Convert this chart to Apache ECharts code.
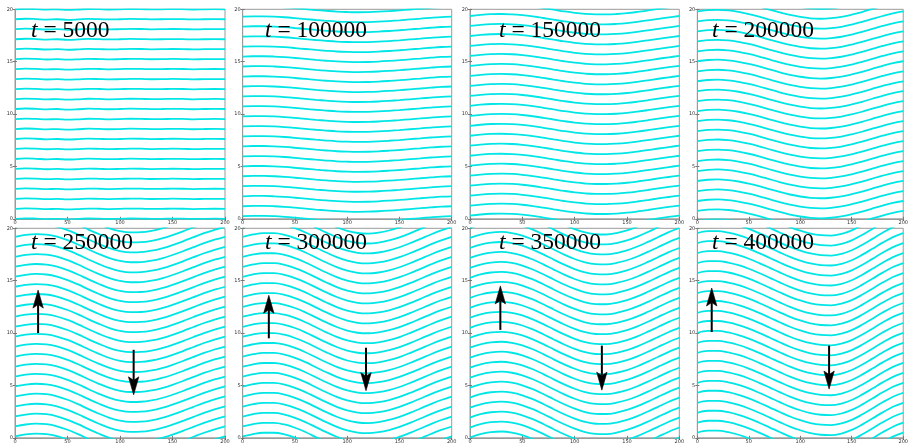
<!DOCTYPE html>
<html><head><meta charset="utf-8">
<script src="https://cdn.jsdelivr.net/npm/echarts@6/dist/echarts.min.js"></script>
<style>html,body{margin:0;padding:0;background:#fff}#c{width:911px;height:445px}</style>
</head><body><div id="c"></div>
<script>
// sample positions along x
const xs = [0,10,20,30,40,50,60,70,80,90,100,110,120,130,140,150,160,170,180,190,200];
// rest heights of the layer lines
const baselines = [-2.86,-1.90,-0.95,0,0.95,1.90,2.86,3.81,4.76,5.71,6.67,7.62,8.57,9.52,10.48,11.43,12.38,13.33,14.29,15.24,16.19,17.14,18.10,19.05,20.00,20.95,21.90];
const times = ['5000','100000','150000','200000','250000','300000','350000','400000'];
// vertical displacement of the lines vs x, per panel
const prof5000   = [0,0.05,0.02,-0.03,0,-0.05,-0.02,0.03,0.01,-0.02,0,0.03,0.02,-0.01,0,0.02,0.01,-0.02,0,0.01,0];
const prof100000 = [0.25,0.28,0.28,0.25,0.19,0.11,0.02,-0.07,-0.15,-0.22,-0.26,-0.28,-0.27,-0.23,-0.17,-0.10,-0.02,0.06,0.14,0.21,0.25];
const prof150000 = [0.31,0.41,0.48,0.50,0.47,0.39,0.27,0.12,-0.04,-0.20,-0.34,-0.44,-0.49,-0.49,-0.45,-0.37,-0.25,-0.11,0.04,0.18,0.31];
const prof200000 = [0.75,0.87,0.90,0.84,0.70,0.50,0.25,-0.03,-0.30,-0.54,-0.73,-0.86,-0.90,-0.85,-0.72,-0.51,-0.26,0.03,0.31,0.56,0.75];
const prof250000 = [1.09,1.27,1.35,1.30,1.10,0.77,0.35,-0.12,-0.56,-0.95,-1.22,-1.34,-1.32,-1.19,-0.96,-0.65,-0.29,0.10,0.48,0.81,1.09];
const prof300000 = [1.08,1.31,1.43,1.43,1.27,0.96,0.55,0.07,-0.41,-0.85,-1.19,-1.40,-1.45,-1.36,-1.16,-0.86,-0.48,-0.06,0.36,0.75,1.08];
const prof350000 = [0.98,1.30,1.49,1.55,1.45,1.20,0.83,0.37,-0.13,-0.61,-1.03,-1.35,-1.52,-1.54,-1.41,-1.15,-0.79,-0.35,0.12,0.58,0.98];
const prof400000 = [1.44,1.63,1.63,1.49,1.24,0.90,0.49,0.05,-0.40,-0.83,-1.18,-1.45,-1.61,-1.65,-1.49,-1.15,-0.64,-0.06,0.53,1.06,1.44];
const profiles = [prof5000,prof100000,prof150000,prof200000,prof250000,prof300000,prof350000,prof400000];
// arrows in the lower panels: [x, from y, to y]
const upArrows   = [[22,10.0,14.1],[25,9.5,13.6],[29,10.3,14.5],[14,10.1,14.3]];
const downArrows = [[113,8.4,4.1],[118,8.6,4.5],[126,8.8,4.55],[128,8.8,4.65]];
const xTickStep = 50, yTickStep = 5;

const lefts  = [15, 242.7, 470, 697.3];
const widths = [210, 209, 209.3, 210.4];
const tops   = [9.3, 228.3];
const height = 209.5;
const titleLeft = [31, 265, 499, 712];
const titleTop  = [18.5, 231];

const grids = [], xAxes = [], yAxes = [], series = [], titles = [];
const lineColor = '#00e6e6';
for (let p = 0; p < 8; p++) {
  const r = Math.floor(p / 4), c = p % 4;
  grids.push({left: lefts[c], top: tops[r], width: widths[c], height: height,
    show: true, borderColor: '#9a9a9a', borderWidth: 1, backgroundColor: 'transparent'});
  const axCommon = {gridIndex: p, type: 'value', splitLine: {show: false},
    axisLine: {show: true, lineStyle: {color: '#9a9a9a', width: 1}},
    axisTick: {show: true, inside: true, length: 2, lineStyle: {color: '#777'}}};
  xAxes.push(Object.assign({}, axCommon, {min: 0, max: 200, interval: xTickStep, position: 'bottom',
    axisLabel: {show: true, fontSize: 5, color: '#333', margin: 1.5, fontFamily: 'DejaVu Sans'}}));
  xAxes.push(Object.assign({}, axCommon, {min: 0, max: 200, interval: xTickStep, position: 'top',
    axisLabel: {show: false}}));
  yAxes.push(Object.assign({}, axCommon, {min: 0, max: 20, interval: yTickStep, position: 'left',
    axisLabel: {show: true, fontSize: 5, color: '#333', margin: 2, fontFamily: 'DejaVu Sans'}}));
  yAxes.push(Object.assign({}, axCommon, {min: 0, max: 20, interval: yTickStep, position: 'right',
    axisLabel: {show: false}}));
  const prof = profiles[p];
  baselines.forEach(b => {
    series.push({type: 'line', xAxisIndex: 2 * p, yAxisIndex: 2 * p, silent: true,
      showSymbol: false, symbol: 'none', smooth: 0.35, clip: true, animation: false,
      lineStyle: {color: lineColor, width: 1.8},
      data: xs.map((x, j) => [x, +(b + prof[j]).toFixed(3)])});
  });
  if (r === 1) {
    const arrowData = [upArrows[c], downArrows[c]];
    series.push({type: 'custom', xAxisIndex: 2 * p, yAxisIndex: 2 * p, silent: true, animation: false,
      clip: false, z: 5, data: arrowData, encode: {x: 0, y: [1, 2]},
      renderItem: (params, api) => {
        const p0 = api.coord([api.value(0), api.value(1)]);
        const p1 = api.coord([api.value(0), api.value(2)]);
        const dir = p1[1] > p0[1] ? 1 : -1;
        const L = 18, W = 5.2, N = 14.5;
        const x = p1[0], ty = p1[1];
        return {type: 'group', children: [
          {type: 'line', shape: {x1: p0[0], y1: p0[1], x2: x, y2: ty - dir * N},
            style: {stroke: '#000', lineWidth: 2}},
          {type: 'polygon', shape: {points: [[x, ty], [x - W, ty - dir * L], [x, ty - dir * N], [x + W, ty - dir * L]]},
            style: {fill: '#000', stroke: '#000', lineWidth: 0.6}}
        ]};
      }});
  }
  titles.push({text: '{i|t} = ' + times[p], left: titleLeft[c], top: titleTop[r], padding: 0,
    textStyle: {fontFamily: 'Liberation Serif', fontSize: 23.5, fontWeight: 'normal', color: '#000',
      rich: {i: {fontFamily: 'Liberation Serif', fontSize: 23.5, fontStyle: 'italic', color: '#000'}}}});
}
const chart = echarts.init(document.getElementById('c'), null, {renderer: 'canvas'});
chart.setOption({animation: false, backgroundColor: '#fff', title: titles, grid: grids,
  xAxis: xAxes, yAxis: yAxes, series: series});
</script></body></html>
